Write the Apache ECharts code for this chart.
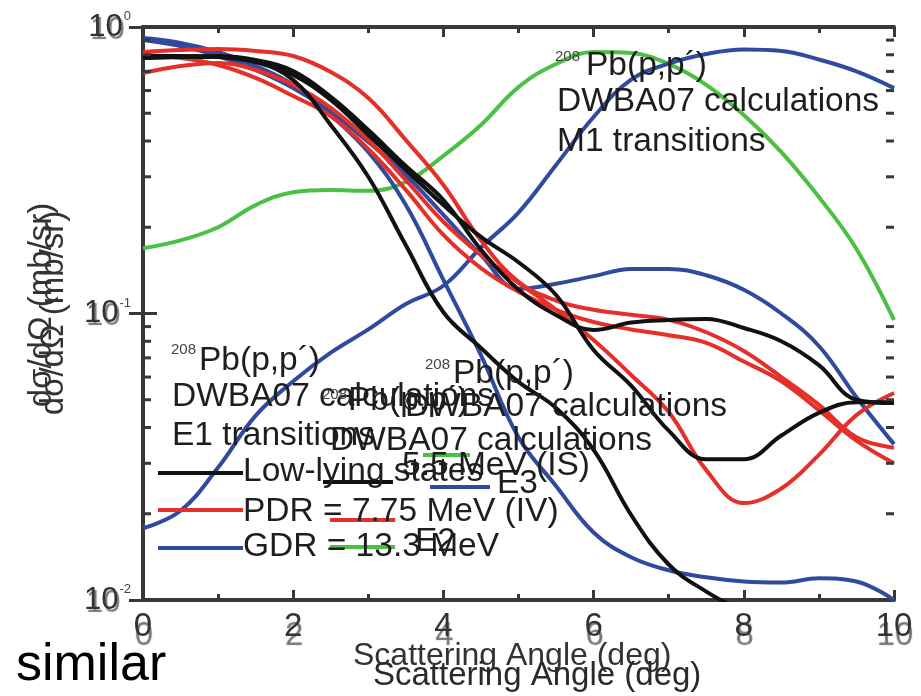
<!DOCTYPE html>
<html>
<head>
<meta charset="utf-8">
<script src="https://cdn.jsdelivr.net/npm/echarts@6/dist/echarts.min.js"></script>
<style>
  html, body { margin: 0; padding: 0; background: #fff; }
  #chart { width: 921px; height: 696px; }
</style>
</head>
<body>
<div id="chart"></div>
<script>
// Scattering angle grid (deg)
const angles = [0, 0.5, 1, 1.5, 2, 2.5, 3, 3.5, 4, 4.5, 5, 5.5, 6, 6.5, 7, 7.5, 8, 8.5, 9, 9.5, 10];

// Cross sections dσ/dΩ (mb/sr)
const blackSteep = [0.779, 0.786, 0.786, 0.755, 0.653, 0.455, 0.300, 0.173, 0.101, 0.0758, 0.0577, 0.0468, 0.0334, 0.0198, 0.0133, 0.0107, 0.0091, 0.0079, 0.0067, 0.0057, 0.0049];
const blackFlat  = [0.779, 0.786, 0.792, 0.767, 0.702, 0.570, 0.437, 0.327, 0.249, 0.167, 0.121, 0.0988, 0.0876, 0.093, 0.0949, 0.0957, 0.089, 0.080, 0.066, 0.050, 0.0487];
const blackDip   = [0.792, 0.792, 0.786, 0.755, 0.680, 0.556, 0.420, 0.317, 0.239, 0.185, 0.151, 0.116, 0.0746, 0.056, 0.039, 0.031, 0.031, 0.0375, 0.045, 0.049, 0.049];

const redOuter = [0.818, 0.831, 0.838, 0.825, 0.792, 0.696, 0.565, 0.403, 0.281, 0.180, 0.129, 0.111, 0.103, 0.099, 0.095, 0.086, 0.074, 0.060, 0.048, 0.037, 0.034];
const redInner = [0.798, 0.779, 0.737, 0.664, 0.574, 0.489, 0.375, 0.270, 0.188, 0.144, 0.119, 0.103, 0.0934, 0.088, 0.084, 0.079, 0.068, 0.058, 0.046, 0.036, 0.030];
const redDip   = [0.691, 0.731, 0.749, 0.708, 0.628, 0.522, 0.403, 0.292, 0.209, 0.160, 0.128, 0.103, 0.0808, 0.0610, 0.0453, 0.0284, 0.0218, 0.0245, 0.0321, 0.0442, 0.0528];

const blueSteep = [0.915, 0.880, 0.818, 0.731, 0.628, 0.493, 0.366, 0.239, 0.131, 0.0716, 0.037, 0.025, 0.0172, 0.0141, 0.0127, 0.0120, 0.0116, 0.0115, 0.0119, 0.0116, 0.0100];
const blueBump  = [0.901, 0.858, 0.792, 0.708, 0.612, 0.505, 0.397, 0.304, 0.221, 0.160, 0.122, 0.127, 0.135, 0.143, 0.143, 0.136, 0.121, 0.100, 0.077, 0.051, 0.035];
const blueRise  = [0.0178, 0.0205, 0.029, 0.044, 0.058, 0.073, 0.088, 0.108, 0.125, 0.17, 0.225, 0.33, 0.485, 0.655, 0.745, 0.805, 0.835, 0.825, 0.77, 0.70, 0.612];

const greenE2 = [0.169, 0.180, 0.200, 0.239, 0.265, 0.270, 0.268, 0.288, 0.355, 0.455, 0.617, 0.743, 0.818, 0.811, 0.743, 0.628, 0.493, 0.366, 0.255, 0.168, 0.0949];

// Minor ticks of the logarithmic axis
const minorTickValues = [0.02, 0.03, 0.04, 0.05, 0.06, 0.07, 0.08, 0.09, 0.2, 0.3, 0.4, 0.5, 0.6, 0.7, 0.8, 0.9];

const FONT = "Arial, 'Liberation Sans', sans-serif";
const RED = '#e5302a', BLACK = '#111111', BLUE = '#2f4a9e', GREEN = '#4cbf45';
const AXIS = '#383838';
const TS = 33.5; // annotation text size

const pair = vals => angles.map((a, i) => [a, vals[i]]);

function curve(name, vals, color) {
  return {
    name, type: 'line', data: pair(vals), smooth: 0.4, symbol: 'none',
    lineStyle: { color, width: 4 }, clip: true, z: 3
  };
}

function txt(text, x, baseline, size, fill) {
  return {
    type: 'text', x, y: baseline - 0.34 * size, z: 10,
    style: { text, font: size + 'px ' + FONT, fill: fill || '#1e1e1e', verticalAlign: 'middle', align: 'left' }
  };
}
function key(x1, x2, y, color) {
  return { type: 'line', z: 9, shape: { x1, y1: y, x2, y2: y }, style: { stroke: color, lineWidth: 4 } };
}

const chart = echarts.init(document.getElementById('chart'));
chart.setOption({
  animation: false,
  backgroundColor: '#fff',
  grid: { left: 143, top: 27, width: 751, height: 573, outerBoundsMode: 'none' },
  xAxis: [{
    type: 'value', min: 0, max: 10, interval: 2,
    axisLine: { show: true, lineStyle: { color: AXIS, width: 4 } },
    axisTick: { inside: true, length: 10, lineStyle: { color: AXIS, width: 3 } },
    minorTick: { show: true, splitNumber: 2, length: 6, lineStyle: { color: AXIS, width: 3 } },
    splitLine: { show: false },
    axisLabel: {
      fontSize: 33, fontFamily: FONT, color: '#333', margin: 10,
      textShadowColor: 'rgba(70,70,70,0.75)', textShadowOffsetY: 9, textShadowOffsetX: 1, textShadowBlur: 1
    }
  }, {
    type: 'value', min: 0, max: 10, interval: 2, position: 'top',
    axisLine: { show: true, lineStyle: { color: AXIS, width: 4 } },
    axisTick: { inside: true, length: 10, lineStyle: { color: AXIS, width: 3 } },
    minorTick: { show: true, splitNumber: 2, length: 6, lineStyle: { color: AXIS, width: 3 } },
    splitLine: { show: false }, axisLabel: { show: false }
  }],
  yAxis: [{
    type: 'log', logBase: 10, min: 0.01, max: 1,
    axisLine: { show: true, lineStyle: { color: AXIS, width: 4 } },
    axisTick: { inside: true, length: 14, lineStyle: { color: AXIS, width: 3 } },
    splitLine: { show: false },
    axisLabel: {
      margin: 12,
      formatter: v => '{b|10}{s|' + Math.round(Math.log10(v)) + '}',
      rich: {
        b: { fontSize: 31, fontFamily: FONT, color: '#333', lineHeight: 34,
             textShadowColor: 'rgba(60,60,60,0.7)', textShadowOffsetX: 2, textShadowOffsetY: 3, textShadowBlur: 1 },
        s: { fontSize: 13, fontFamily: FONT, color: '#444', lineHeight: 13, verticalAlign: 'top', padding: [0, 0, 0, 1] }
      }
    }
  }, {
    type: 'log', logBase: 10, min: 0.01, max: 1, position: 'right',
    axisLine: { show: true, lineStyle: { color: AXIS, width: 4 } },
    axisTick: { inside: true, length: 14, lineStyle: { color: AXIS, width: 3 } },
    splitLine: { show: false }, axisLabel: { show: false }
  }],
  series: [
    {
      type: 'custom', name: 'minor ticks', z: 4, clip: false,
      data: minorTickValues.map(v => [0, v]),
      renderItem: (params, api) => {
        const l = api.coord([0, api.value(1)]);
        const r = api.coord([10, api.value(1)]);
        const st = { stroke: AXIS, lineWidth: 3 };
        return { type: 'group', children: [
          { type: 'line', shape: { x1: l[0], y1: l[1], x2: l[0] + 8, y2: l[1] }, style: st },
          { type: 'line', shape: { x1: r[0] - 8, y1: r[1], x2: r[0], y2: r[1] }, style: st }
        ] };
      }
    },
    curve('E2', greenE2, GREEN),
    curve('M1 rise', blueRise, BLUE),
    curve('GDR', blueSteep, BLUE),
    curve('E1 bump', blueBump, BLUE),
    curve('PDR outer', redOuter, RED),
    curve('PDR inner', redInner, RED),
    curve('PDR dip', redDip, RED),
    curve('Low-lying flat', blackFlat, BLACK),
    curve('Low-lying dip', blackDip, BLACK),
    curve('Low-lying steep', blackSteep, BLACK)
  ],
  graphic: [
    // M1 panel header
    txt('208', 555, 62, 15, '#444'),
    txt('Pb(p,p´)', 586, 77, TS),
    txt('DWBA07 calculations', 557, 113, TS),
    txt('M1 transitions', 557, 153, TS),

    // E1 panel header and legend
    txt('208', 171, 355, 15, '#444'),
    txt('Pb(p,p´)', 199, 372, TS),
    txt('DWBA07 calculations', 172, 408, TS),
    txt('E1 transitions', 172, 447, TS),
    key(158, 243, 473, BLACK),
    key(158, 243, 510, RED),
    key(158, 243, 548, BLUE),
    txt('Low-lying states', 243, 483, TS),
    txt('PDR = 7.75 MeV (IV)', 243, 523, TS),
    txt('GDR = 13.3 MeV', 243, 558, TS),

    // second overlaid header
    txt('208', 425, 370, 15, '#444'),
    txt('Pb(p,p´)', 453, 385, TS),
    txt('DWBA07 calculations', 405, 418, TS),

    // third overlaid header and legend
    txt('208', 322, 400, 15, '#444'),
    txt('Pb(p,p´)', 348, 412, TS),
    txt('DWBA07 calculations', 330, 452, TS),
    key(423, 470, 455, GREEN),
    key(323, 393, 482, BLACK),
    key(430, 490, 487, BLUE),
    key(330, 395, 520, RED),
    key(330, 395, 547, GREEN),
    txt('5.5 MeV (IS)', 402, 477, TS),
    txt('E3', 497, 495, TS),
    txt('E2', 415, 553, TS),

    // axis titles
    txt('Scattering Angle (deg)', 353, 667, 32, '#333'),
    txt('Scattering Angle (deg)', 373, 687, 33, '#2a2a2a'),
    { type: 'text', x: 42, y: 305, rotation: Math.PI / 2, z: 10,
      style: { text: 'dσ/dΩ (mb/sr)', font: '33px ' + FONT, fill: '#333', align: 'center', verticalAlign: 'middle' } },
    { type: 'text', x: 54, y: 313, rotation: Math.PI / 2, z: 10,
      style: { text: 'dσ/dΩ (mb/sr)', font: '33px ' + FONT, fill: '#333', align: 'center', verticalAlign: 'middle' } },

    // caption
    txt('similar', 16, 683, 52, '#000')
  ]
});
</script>
</body>
</html>
